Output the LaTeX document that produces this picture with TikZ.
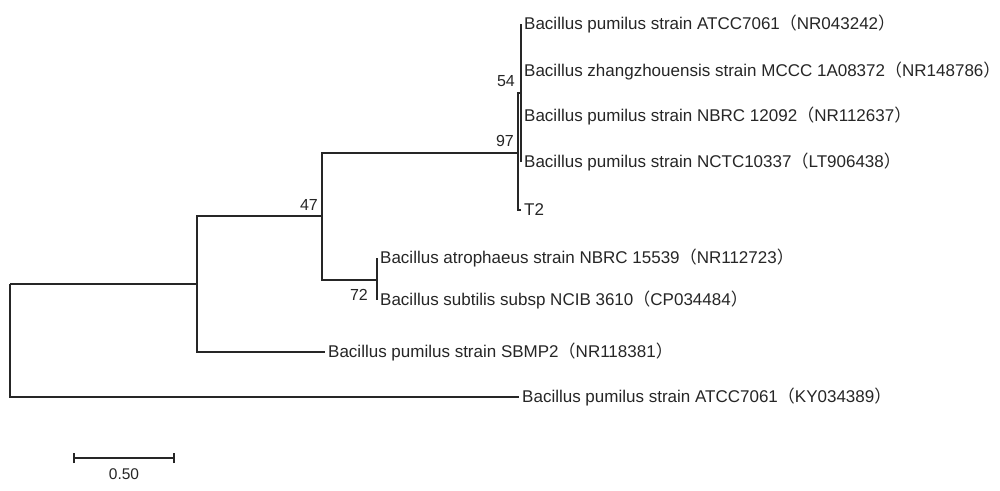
\documentclass[tikz,border=0pt]{standalone}
\usepackage{fontspec}
\setmainfont{Liberation Sans}
\newfontfamily\cjkfnt{Noto Sans CJK SC}
\newcommand\LPa{{\cjkfnt （}}
\newcommand\RPa{{\cjkfnt ）}}
\definecolor{ink}{HTML}{262626}
\begin{document}
\begin{tikzpicture}[x=1pt,y=-1pt,
  branch/.style={draw=ink,line width=1.3pt},
  leaf/.style={anchor=west,inner xsep=3pt,inner ysep=0pt,text=ink,font=\fontsize{17}{19}\selectfont},
  boot/.style={inner sep=1pt,text=ink,font=\fontsize{16}{18}\selectfont},
  scalelbl/.style={inner sep=0pt,text=ink,font=\fontsize{15.5}{17}\selectfont}]
\useasboundingbox[fill=white] (0,0) rectangle (1000,490);
% internal nodes
\coordinate (root) at (10,284);
\coordinate (nB) at (197,284);
\coordinate (n47) at (322,216);
\coordinate (n97) at (518,153);
\coordinate (nA) at (521,93);
\coordinate (n72) at (377,280);
% leaves
\node[leaf] (L1) at (521,24) {Bacillus pumilus strain ATCC7061\LPa NR043242\RPa};
\node[leaf] (L2) at (521,71) {Bacillus zhangzhouensis strain MCCC 1A08372\LPa NR148786\RPa};
\node[leaf] (L3) at (521,116) {Bacillus pumilus strain NBRC 12092\LPa NR112637\RPa};
\node[leaf] (L4) at (521,162) {Bacillus pumilus strain NCTC10337\LPa LT906438\RPa};
\node[leaf] (L5) at (521,210) {T2};
\node[leaf] (L6) at (377,258) {Bacillus atrophaeus strain NBRC 15539\LPa NR112723\RPa};
\node[leaf] (L7) at (377,300) {Bacillus subtilis subsp NCIB 3610\LPa CP034484\RPa};
\node[leaf] (L8) at (325,352) {Bacillus pumilus strain SBMP2\LPa NR118381\RPa};
\node[leaf] (L9) at (519,397) {Bacillus pumilus strain ATCC7061\LPa KY034389\RPa};
% branches
\draw[branch] (root |- nB) -- (nB);
\draw[branch] (root) |- (L9.west);
\draw[branch] (nB) -- (nB |- n47) -- (n47);
\draw[branch] (nB) |- (L8.west);
\draw[branch] (n47) -- (n47 |- n97) -- (n97);
\draw[branch] (n47) |- (n72);
\draw[branch] (n72) |- (L6.west);
\draw[branch] (n72) |- (L7.west);
\draw[branch] (n97) -- (n97 |- nA) -- (nA);
\draw[branch] (n97) |- (L5.west);
\draw[branch] (nA) |- (L1.west);
\draw[branch] (nA) |- (L2.west);
\draw[branch] (nA) |- (L3.west);
\draw[branch] (nA) |- (L4.west);
% bootstrap values
\node[boot,anchor=south east] (b54) at ([xshift=-5pt,yshift=5pt]nA) {54};
\node[boot,anchor=south east] (b97) at ([xshift=-3pt,yshift=5pt]n97) {97};
\node[boot,anchor=south east] (b47) at ([xshift=-3pt,yshift=4pt]n47) {47};
\node[boot,anchor=north east] (b72) at ([xshift=-8pt,yshift=-8pt]n72) {72};
% scale bar
\coordinate (s0) at (74,458);
\coordinate (s1) at (174,458);
\draw[branch,line width=1.1pt] (s0) -- (s1);
\draw[branch,line width=1.1pt] ([yshift=-5pt]s0) -- ([yshift=5pt]s0);
\draw[branch,line width=1.1pt] ([yshift=-5pt]s1) -- ([yshift=5pt]s1);
\node[scalelbl] (slbl) at (124,474) {0.50};
\end{tikzpicture}
\end{document}
